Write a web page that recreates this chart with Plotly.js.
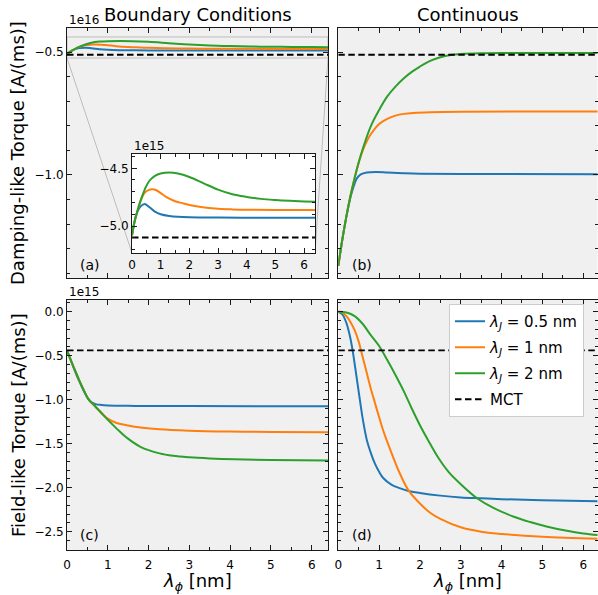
<!DOCTYPE html>
<html><head><meta charset="utf-8">
<script src="https://cdn.plot.ly/plotly-3.0.1.min.js"></script>
<style>html,body{margin:0;padding:0;background:#fff}#chart{width:598px;height:595px}</style>
</head><body><div id="chart"></div>
<script>
// ---------- data ----------
// Panel (a) + inset: boundary conditions, damping-like torque, units 1e15 A/(ms)
const bcDamp05X = [0, 0.1, 0.2, 0.3, 0.44, 0.6, 0.8, 1.0, 1.3, 1.6, 2.0, 3.0, 4.0, 5.0, 6.4];
const bcDamp05Y = [-5.08, -4.95, -4.87, -4.83, -4.81, -4.835, -4.875, -4.898, -4.913, -4.92, -4.924, -4.927, -4.928, -4.928, -4.928];
const bcDamp1X = [0, 0.1, 0.2, 0.3, 0.45, 0.6, 0.71, 0.85, 1.0, 1.2, 1.5, 1.8, 2.0, 2.4, 3.0, 3.5, 4.0, 5.0, 6.4];
const bcDamp1Y = [-5.08, -4.95, -4.86, -4.78, -4.71, -4.687, -4.682, -4.69, -4.715, -4.75, -4.785, -4.805, -4.818, -4.835, -4.85, -4.856, -4.859, -4.861, -4.862];
const bcDamp2X = [0, 0.1, 0.2, 0.3, 0.45, 0.6, 0.8, 1.0, 1.3, 1.6, 2.0, 2.5, 3.0, 3.5, 4.0, 4.5, 5.0, 5.5, 6.0, 6.4];
const bcDamp2Y = [-5.08, -4.95, -4.86, -4.78, -4.68, -4.61, -4.565, -4.545, -4.537, -4.545, -4.575, -4.63, -4.685, -4.725, -4.748, -4.765, -4.775, -4.782, -4.787, -4.79];

// Panel (b): continuous, damping-like torque, units 1e16 A/(ms)
const ctDamp05X = [0, 0.1, 0.2, 0.3, 0.37, 0.45, 0.55, 0.7, 0.93, 1.2, 1.6, 2.0, 3.0, 6.4];
const ctDamp05Y = [-1.37, -1.262, -1.168, -1.09, -1.05, -1.015, -0.998, -0.99, -0.988, -0.99, -0.993, -0.995, -0.996, -0.997];
const ctDamp1X = [0, 0.1, 0.2, 0.3, 0.4, 0.5, 0.6, 0.7, 0.8, 1.0, 1.2, 1.4, 1.6, 1.84, 2.25, 3.0, 6.4];
const ctDamp1Y = [-1.37, -1.262, -1.168, -1.084, -1.012, -0.95, -0.90, -0.862, -0.833, -0.792, -0.771, -0.758, -0.751, -0.747, -0.744, -0.742, -0.741];
const ctDamp2X = [0, 0.1, 0.2, 0.3, 0.4, 0.5, 0.6, 0.8, 1.0, 1.2, 1.4, 1.6, 1.8, 2.0, 2.25, 2.5, 2.75, 3.0, 3.5, 4.0, 5.0, 6.4];
const ctDamp2Y = [-1.37, -1.262, -1.168, -1.084, -1.012, -0.948, -0.893, -0.80, -0.735, -0.68, -0.64, -0.607, -0.58, -0.558, -0.535, -0.52, -0.511, -0.507, -0.504, -0.503, -0.503, -0.503];

// Panel (c): boundary conditions, field-like torque, units 1e15 A/(ms)
const bcField05X = [0, 0.1, 0.2, 0.3, 0.4, 0.52, 0.6, 0.7, 0.85, 1.0, 1.5, 2.0, 3.0, 6.4];
const bcField05Y = [-0.44, -0.56, -0.68, -0.79, -0.89, -0.99, -1.03, -1.05, -1.06, -1.065, -1.07, -1.072, -1.073, -1.074];
const bcField1X = [0, 0.1, 0.2, 0.3, 0.4, 0.52, 0.7, 0.89, 1.0, 1.2, 1.46, 1.8, 2.27, 3.0, 4.0, 5.0, 6.4];
const bcField1Y = [-0.44, -0.56, -0.67, -0.78, -0.88, -0.99, -1.08, -1.17, -1.215, -1.262, -1.29, -1.315, -1.337, -1.352, -1.362, -1.367, -1.37];
const bcField2X = [0, 0.1, 0.2, 0.3, 0.4, 0.52, 0.7, 0.89, 1.1, 1.3, 1.46, 1.8, 2.27, 2.6, 3.0, 3.5, 4.1, 5.0, 6.4];
const bcField2Y = [-0.44, -0.56, -0.67, -0.78, -0.88, -0.99, -1.08, -1.175, -1.275, -1.365, -1.43, -1.535, -1.61, -1.638, -1.655, -1.668, -1.678, -1.685, -1.69];

// Panel (d): continuous, field-like torque, units 1e15 A/(ms)
const ctField05X = [0, 0.1, 0.2, 0.25, 0.3, 0.35, 0.4, 0.5, 0.6, 0.7, 0.8, 0.9, 1.0, 1.1, 1.3, 1.5, 1.7, 2.0, 2.5, 3.0, 3.5, 4.0, 5.0, 6.4];
const ctField05Y = [0, -0.03, -0.13, -0.21, -0.31, -0.44, -0.59, -0.91, -1.22, -1.46, -1.61, -1.73, -1.82, -1.89, -1.965, -2.005, -2.035, -2.06, -2.09, -2.11, -2.12, -2.13, -2.143, -2.155];
const ctField1X = [0, 0.1, 0.2, 0.3, 0.4, 0.5, 0.55, 0.6, 0.7, 0.8, 0.9, 1.0, 1.1, 1.2, 1.35, 1.5, 1.72, 2.0, 2.25, 2.5, 3.0, 3.5, 4.0, 5.0, 6.4];
const ctField1Y = [0, -0.01, -0.05, -0.12, -0.21, -0.34, -0.43, -0.52, -0.70, -0.88, -1.04, -1.20, -1.35, -1.48, -1.66, -1.83, -2.03, -2.18, -2.285, -2.355, -2.45, -2.50, -2.525, -2.557, -2.58];
const ctField2X = [0, 0.2, 0.4, 0.6, 0.8, 1.0, 1.2, 1.4, 1.6, 1.8, 2.0, 2.2, 2.45, 2.7, 3.0, 3.4, 3.8, 4.3, 4.7, 5.1, 5.6, 6.0, 6.4];
const ctField2Y = [0, -0.01, -0.05, -0.14, -0.27, -0.39, -0.55, -0.72, -0.90, -1.10, -1.29, -1.46, -1.66, -1.82, -1.96, -2.12, -2.23, -2.33, -2.39, -2.44, -2.49, -2.52, -2.54];

// MCT reference levels
const mctDamp = -0.51;   // 1e16 A/(ms)
const mctField = -0.44;  // 1e15 A/(ms)
const mctX = [0, 6.4];

// labels
const seriesLabels = ['<i>λ</i><sub><i>J</i></sub> = 0.5 nm', '<i>λ</i><sub><i>J</i></sub> = 1 nm', '<i>λ</i><sub><i>J</i></sub> = 2 nm'];
const mctLabel = 'MCT';
const colTitles = ['Boundary Conditions', 'Continuous'];
const rowTitles = ['Damping-like Torque [A/(ms)]', 'Field-like Torque [A/(ms)]'];
const xTitle = '<i>λ</i><sub><i>ϕ</i></sub> [nm]';
const panelTags = ['(a)', '(b)', '(c)', '(d)'];
const offsetTexts = ['1e16', '1e15', '1e15'];

// ---------- layout geometry ----------
const W = 598, H = 595;
const FONT = 'DejaVu Sans';
const colA = [67, 328], colB = [338.3, 597.5];
const rowT = [28, 278], rowB = [300, 550];
const insetPx = {x: [132, 315], y: [154, 253]};
const fx = p => p / W, fy = p => 1 - p / H;
const xdom = c => [fx(c[0]), fx(c[1])];
const ydom = r => [fy(r[1]), fy(r[0])];

const xRangeL = [0, 6.4], xRangeR = [0, 6.35];
const yRangeT = [-1.42, -0.401], yRangeB = [-2.708, 0.133];
const insetYR = [-5.234, -4.376], insetXR = [0, 6.38];

const colors = ['#1f77b4', '#ff7f0e', '#2ca02c'];
const scale01 = a => a.map(v => v / 10);

const traces = [];
function addLine(x, y, xa, ya, color, name, show, dash, group) {
  traces.push({type: 'scatter', mode: 'lines', x, y, xaxis: xa, yaxis: ya,
    line: {color, width: dash ? 1.9 : 2, shape: dash ? 'linear' : 'spline', dash: dash || 'solid'},
    name: name || '', showlegend: !!show, legendgroup: group || undefined, hoverinfo: 'skip', cliponaxis: true});
}
const bcD = [[bcDamp05X, bcDamp05Y], [bcDamp1X, bcDamp1Y], [bcDamp2X, bcDamp2Y]];
const ctD = [[ctDamp05X, ctDamp05Y], [ctDamp1X, ctDamp1Y], [ctDamp2X, ctDamp2Y]];
const bcF = [[bcField05X, bcField05Y], [bcField1X, bcField1Y], [bcField2X, bcField2Y]];
const ctF = [[ctField05X, ctField05Y], [ctField1X, ctField1Y], [ctField2X, ctField2Y]];
const DASH = '6.5px,3.5px';

// (a) main (1e16 units)
bcD.forEach((s, i) => addLine(s[0], scale01(s[1]), 'x', 'y', colors[i]));
addLine(mctX, [mctDamp, mctDamp], 'x', 'y', '#000', '', false, DASH);
// (b)
ctD.forEach((s, i) => addLine(s[0], s[1], 'x2', 'y2', colors[i]));
addLine(mctX, [mctDamp, mctDamp], 'x2', 'y2', '#000', '', false, DASH);
// (c)
bcF.forEach((s, i) => addLine(s[0], s[1], 'x3', 'y3', colors[i]));
addLine(mctX, [mctField, mctField], 'x3', 'y3', '#000', '', false, DASH);
// (d) with legend
ctF.forEach((s, i) => addLine(s[0], s[1], 'x4', 'y4', colors[i], seriesLabels[i], true, null, 'g' + i));
addLine(mctX, [mctField, mctField], 'x4', 'y4', '#000', mctLabel, true, DASH, 'g3');
// inset (1e15 units)
bcD.forEach((s, i) => addLine(s[0], s[1], 'x5', 'y5', colors[i]));
addLine(mctX, [mctDamp * 10, mctDamp * 10], 'x5', 'y5', '#000', '', false, DASH);

function axis(domain, range, extra) {
  return Object.assign({
    domain, range, showgrid: false, zeroline: false, showline: true,
    linecolor: '#1a1a1a', linewidth: 1, mirror: 'allticks',
    ticks: 'inside', ticklen: 5, tickwidth: 1, tickcolor: '#1a1a1a',
    tickfont: {family: FONT, size: 12, color: '#000'}, fixedrange: true
  }, extra);
}
const xTicks = {tick0: 0, dtick: 1, ticklabelstandoff: 4, minor: {ticks: 'inside', tick0: 0, dtick: 0.5, ticklen: 3, tickwidth: 1, tickcolor: '#1a1a1a'}};
const yTicks = {tick0: 0, dtick: 0.5, tickformat: '.1f', minor: {ticks: 'inside', tick0: 0, dtick: 0.1, ticklen: 3, tickwidth: 1, tickcolor: '#1a1a1a'}};

const layout = {
  width: W, height: H, margin: {l: 0, r: 0, t: 0, b: 0},
  paper_bgcolor: '#fff', plot_bgcolor: '#fff',
  font: {family: FONT, size: 12, color: '#000'},
  xaxis: axis(xdom(colA), xRangeL, Object.assign({anchor: 'y', showticklabels: false}, xTicks)),
  yaxis: axis(ydom(rowT), yRangeT, Object.assign({anchor: 'x'}, yTicks)),
  xaxis2: axis(xdom(colB), xRangeR, Object.assign({anchor: 'y2', showticklabels: false}, xTicks)),
  yaxis2: axis(ydom(rowT), yRangeT, Object.assign({anchor: 'x2', showticklabels: false}, yTicks)),
  xaxis3: axis(xdom(colA), xRangeL, Object.assign({anchor: 'y3'}, xTicks)),
  yaxis3: axis(ydom(rowB), yRangeB, Object.assign({anchor: 'x3'}, yTicks)),
  xaxis4: axis(xdom(colB), xRangeR, Object.assign({anchor: 'y4'}, xTicks)),
  yaxis4: axis(ydom(rowB), yRangeB, Object.assign({anchor: 'x4', showticklabels: false}, yTicks)),
  xaxis5: axis(xdom(insetPx.x), insetXR, Object.assign({anchor: 'y5'}, xTicks, {ticklabelstandoff: 1})),
  yaxis5: axis(ydom(insetPx.y), insetYR, Object.assign({anchor: 'x5'}, yTicks)),
  showlegend: true,
  legend: {x: fx(449), y: fy(304), xanchor: 'left', yanchor: 'top',
    bgcolor: '#fff', bordercolor: '#cccccc', borderwidth: 1,
    font: {family: FONT, size: 15, color: '#000'}, itemwidth: 30, tracegroupgap: 3.5},
  shapes: [], annotations: []
};

// grey panel backgrounds
[[colA, rowT], [colB, rowT], [colA, rowB], [colB, rowB]].forEach(([c, r]) => {
  layout.shapes.push({type: 'rect', xref: 'paper', yref: 'paper', layer: 'below',
    x0: fx(c[0]), x1: fx(c[1]), y0: fy(r[1]), y1: fy(r[0]), fillcolor: '#f0f0f0', line: {width: 0}});
});
// zoom box in (a) and connector lines to inset
const zoomY = [insetYR[0] / 10, insetYR[1] / 10];
layout.shapes.push({type: 'rect', xref: 'x', yref: 'y', layer: 'below', x0: xRangeL[0], x1: xRangeL[1],
  y0: zoomY[0], y1: zoomY[1], line: {color: '#bdbdbd', width: 1}, fillcolor: 'rgba(0,0,0,0)'});
const yToPx = v => rowT[0] + (yRangeT[1] - v) / (yRangeT[1] - yRangeT[0]) * (rowT[1] - rowT[0]);
const zoomBottomPx = yToPx(zoomY[0]);
layout.shapes.push({type: 'line', xref: 'paper', yref: 'paper', layer: 'below',
  x0: fx(colA[0]), y0: fy(zoomBottomPx), x1: fx(insetPx.x[0]), y1: fy(insetPx.y[1]), line: {color: '#bdbdbd', width: 1}});
layout.shapes.push({type: 'line', xref: 'paper', yref: 'paper', layer: 'below',
  x0: fx(colA[1]), y0: fy(zoomBottomPx), x1: fx(insetPx.x[1]), y1: fy(insetPx.y[1]), line: {color: '#bdbdbd', width: 1}});

function ann(text, xpx, ypx, opts) {
  layout.annotations.push(Object.assign({text, xref: 'paper', yref: 'paper', x: fx(xpx), y: fy(ypx),
    showarrow: false, xanchor: 'center', yanchor: 'middle', font: {family: FONT, size: 18, color: '#000'}}, opts));
}
ann(colTitles[0], (colA[0] + colA[1]) / 2, 14);
ann(colTitles[1], (colB[0] + colB[1]) / 2, 14);
ann(rowTitles[0], 18, (rowT[0] + rowT[1]) / 2, {textangle: -90});
ann(rowTitles[1], 18, (rowB[0] + rowB[1]) / 2, {textangle: -90});
ann(xTitle, (colA[0] + colA[1]) / 2, 582);
ann(xTitle, (colB[0] + colB[1]) / 2, 582);
ann(offsetTexts[0], 67, 20, {xanchor: 'left', font: {family: FONT, size: 12, color: '#000'}});
ann(offsetTexts[1], 67, 292, {xanchor: 'left', font: {family: FONT, size: 12, color: '#000'}});
ann(offsetTexts[2], 132, 146, {xanchor: 'left', font: {family: FONT, size: 12, color: '#000'}});
ann(panelTags[0], 78, 265, {xanchor: 'left', font: {family: FONT, size: 14, color: '#000'}});
ann(panelTags[1], 350, 265, {xanchor: 'left', font: {family: FONT, size: 14, color: '#000'}});
ann(panelTags[2], 78, 535, {xanchor: 'left', font: {family: FONT, size: 14, color: '#000'}});
ann(panelTags[3], 350, 535, {xanchor: 'left', font: {family: FONT, size: 14, color: '#000'}});

Plotly.newPlot('chart', traces, layout, {staticPlot: true, displayModeBar: false});
</script>
</body></html>
